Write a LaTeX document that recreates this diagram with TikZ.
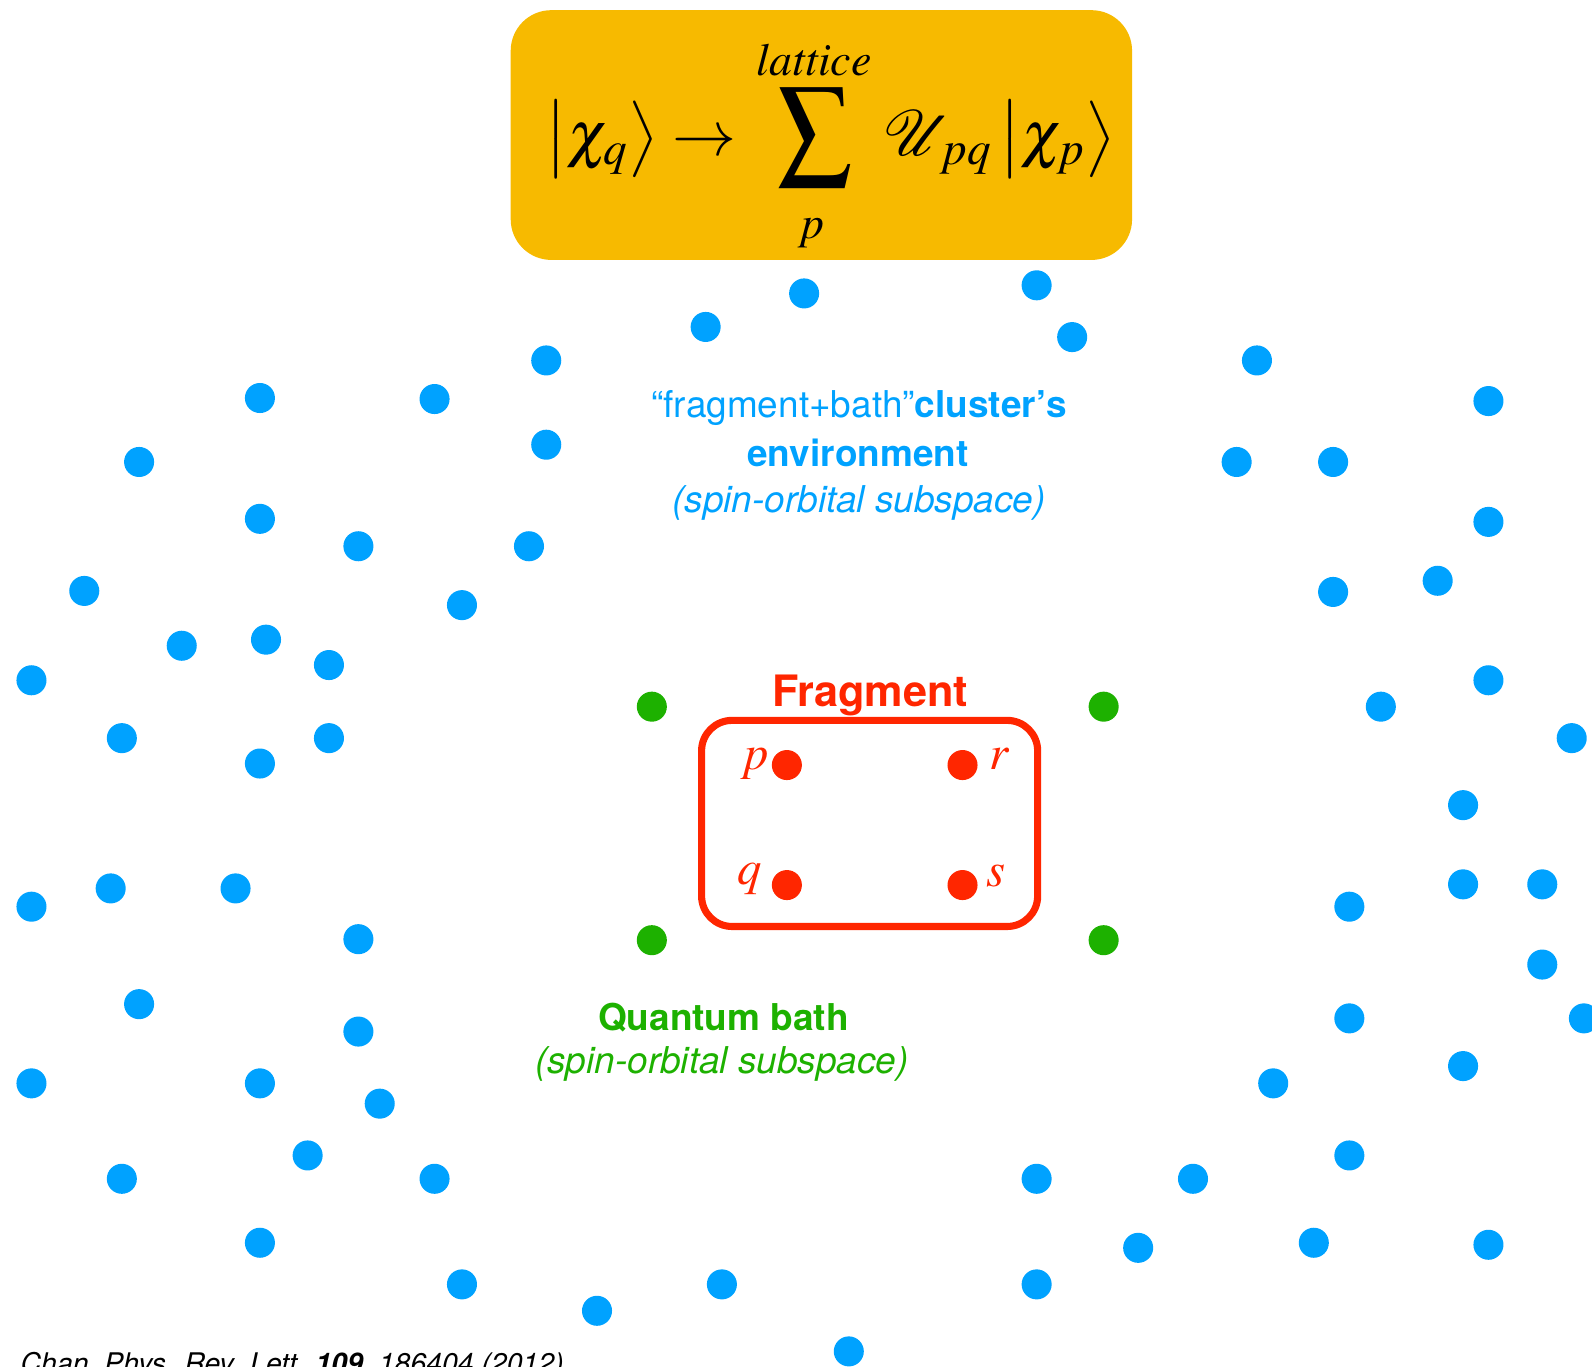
\documentclass[tikz,border=0pt]{standalone}
\usepackage{mathptmx}
\usepackage[no-math]{fontspec}
\setmainfont{TeX Gyre Heros}
\usepackage{graphicx}
\definecolor{dotblue}{HTML}{00A2FF}
\definecolor{bathgreen}{HTML}{1DB100}
\definecolor{fragred}{HTML}{FF2600}
\definecolor{boxorange}{HTML}{F7BA00}
\begin{document}
\begin{tikzpicture}[x=0.5pt,y=-0.5pt,
  envdot/.style={circle,fill=dotblue,inner sep=0pt,minimum size=14.8pt},
  bathdot/.style={circle,fill=bathgreen,inner sep=0pt,minimum size=14.8pt},
  fragdot/.style={circle,fill=fragred,inner sep=0pt,minimum size=14.8pt},
  mainmath/.style={inner sep=0pt,font=\fontsize{31.5}{34}\selectfont},
  limmath/.style={inner sep=0pt,anchor=base,font=\fontsize{22.6}{24}\selectfont},
  orblabel/.style={inner sep=0pt,anchor=base,text=fragred,font=\fontsize{24}{26}\selectfont},
  labeltext/.style={inner sep=0pt,anchor=base,font=\fontsize{18.2}{20}\selectfont}]
\useasboundingbox (0,0) rectangle (1568,1346);

% formula box
\node[fill=boxorange,rounded corners=20pt,minimum width=306pt,minimum height=123pt,inner sep=0pt] (formulabox) at (809,133) {};
\node[mainmath,anchor=base west] (lhs) at (537,152.7) {$\bigl|\chi_q\bigr\rangle$};
\node[mainmath,anchor=base] (arrow) at (694,152.7) {$\rightarrow$};
\node[inner sep=0pt] (sigma) at (803,135.4) {\resizebox*{37pt}{48.7pt}{$\sum$}};
\node[limmath] (upperlim) at (802,74) {$\mathit{lattice}$};
\node[limmath] (lowerlim) at (799,235) {$p$};
\node[mainmath,anchor=base west] (rhs) at (870,152.7) {$\mathcal{U}_{\,pq}\,\bigl|\chi_p\bigr\rangle$};

% environment dots
\foreach \x/\y [count=\i] in {
792/289, 695/322, 1021/281, 1056/332, 538/355, 1238/355,
256/392, 428/393, 1466/395, 538/438,
137/455, 1218/455, 1313/455, 256/511, 1466/514,
353/538, 521/538, 1416/572, 83/582, 1313/583, 455/596,
262/630, 179/636, 324/655, 31/670, 1466/670, 1360/696,
120/727, 324/727, 1548/727, 256/752, 1441/793,
109/875, 232/875, 1441/871, 1519/871, 31/893, 1329/893,
353/925, 1519/950, 137/989, 1329/1003, 1560/1003, 353/1016,
1441/1050, 31/1067, 256/1067, 1254/1067, 374/1087,
303/1138, 1329/1138, 120/1161, 428/1161, 1021/1161, 1175/1161,
256/1224, 1294/1224, 1466/1226, 1121/1229,
455/1265, 711/1265, 1021/1265, 588/1291, 836/1331}
  \node[envdot] (e\i) at (\x,\y) {};

% bath dots
\node[bathdot] (b1) at (642,696) {};
\node[bathdot] (b2) at (1087,696) {};
\node[bathdot] (b3) at (642,926) {};
\node[bathdot] (b4) at (1087,926) {};

% fragment
\node[draw=fragred,line width=3.5pt,rounded corners=15pt,minimum width=165.5pt,minimum height=101.5pt,inner sep=0pt] (fragbox) at (856.5,811) {};
\node[fragdot] (fp) at (775,753.5) {};
\node[fragdot] (fr) at (948,753.5) {};
\node[fragdot] (fq) at (775,871.7) {};
\node[fragdot] (fs) at (948,871.7) {};
\node[orblabel] (lp) at (743.6,757.5) {$p$};
\node[orblabel] (lr) at (984,758) {$r$};
\node[orblabel] (lq) at (738,870.7) {$q$};
\node[orblabel] (ls) at (981,873.6) {$s$};
\node[inner sep=0pt,anchor=base,text=fragred,font=\fontsize{21.3}{24}\selectfont\bfseries] (fraglabel) at (857,696) {Fragment};

% environment label
\node[labeltext,text=dotblue] (envA) at (846,411.5) {“fragment+bath”\textbf{cluster’s}};
\node[labeltext,text=dotblue] (envB) at (845,459.6) {\textbf{environment}};
\node[labeltext,text=dotblue] (envC) at (846,505) {\textit{(spin-orbital subspace)}};

% bath label
\node[labeltext,text=bathgreen] (bathA) at (712.5,1014.5) {\textbf{Quantum bath}};
\node[labeltext,text=bathgreen] (bathB) at (711,1057) {\textit{(spin-orbital subspace)}};

% citation
\node[inner sep=0pt,anchor=base west,font=\fontsize{14}{16}\selectfont\itshape] (cite) at (20,1353) {Chan, Phys. Rev. Lett. \textbf{109}, 186404 (2012)};
\end{tikzpicture}
\end{document}
